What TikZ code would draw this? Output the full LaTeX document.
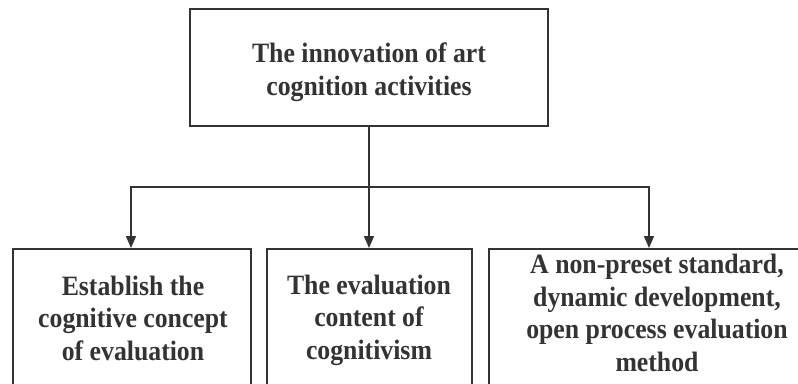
\documentclass[tikz,border=0pt]{standalone}
\usepackage{fontspec}
\setmainfont{Liberation Serif}[FakeStretch=0.92]
\usetikzlibrary{arrows.meta}
\definecolor{ink}{HTML}{333333}
\begin{document}
\begin{tikzpicture}[x=1pt,y=-1pt,
  box/.style={draw=ink,line width=1.6pt,rectangle,inner sep=0pt},
  lbl/.style={text=ink,align=center,inner sep=0pt,font=\fontsize{28}{32.5}\selectfont\bfseries},
  conn/.style={draw=ink,line width=1.6pt},
  arr/.style={conn,-{Triangle[length=12pt,width=10pt]}}]
\useasboundingbox (0,0) rectangle (798,383);
\node[box,minimum width=358pt,minimum height=117pt] (top) at (369,67.5) {};
\node[lbl,font=\fontsize{28}{33}\selectfont\bfseries] (toptext) at (369,72) {The innovation of art\\cognition activities};
\node[box,minimum width=238pt,minimum height=160pt,anchor=north west] (b1) at (12,248) {};
\node[box,minimum width=205pt,minimum height=160pt,anchor=north west] (b2) at (266,248) {};
\node[box,minimum width=340pt,minimum height=160pt,anchor=north west] (b3) at (488,248) {};
\node[lbl] (t1) at (133,318) {Establish the\\cognitive concept\\of evaluation};
\node[lbl] (t2) at (369,320) {The evaluation\\content of\\cognitivism};
\node[lbl] (t3) at (657,313) {A non-preset standard,\\dynamic development,\\open process evaluation\\method};
\coordinate (jm) at (369,187);
\coordinate (jl) at (131,187);
\coordinate (jr) at (649,187);
\draw[conn] (top.south) -- (jm);
\draw[conn,line cap=rect] (jl) -- (jr);
\draw[arr] (jl) -- (jl |- b1.north);
\draw[arr] (jm) -- (jm |- b2.north);
\draw[arr] (jr) -- (jr |- b3.north);
\end{tikzpicture}
\end{document}
